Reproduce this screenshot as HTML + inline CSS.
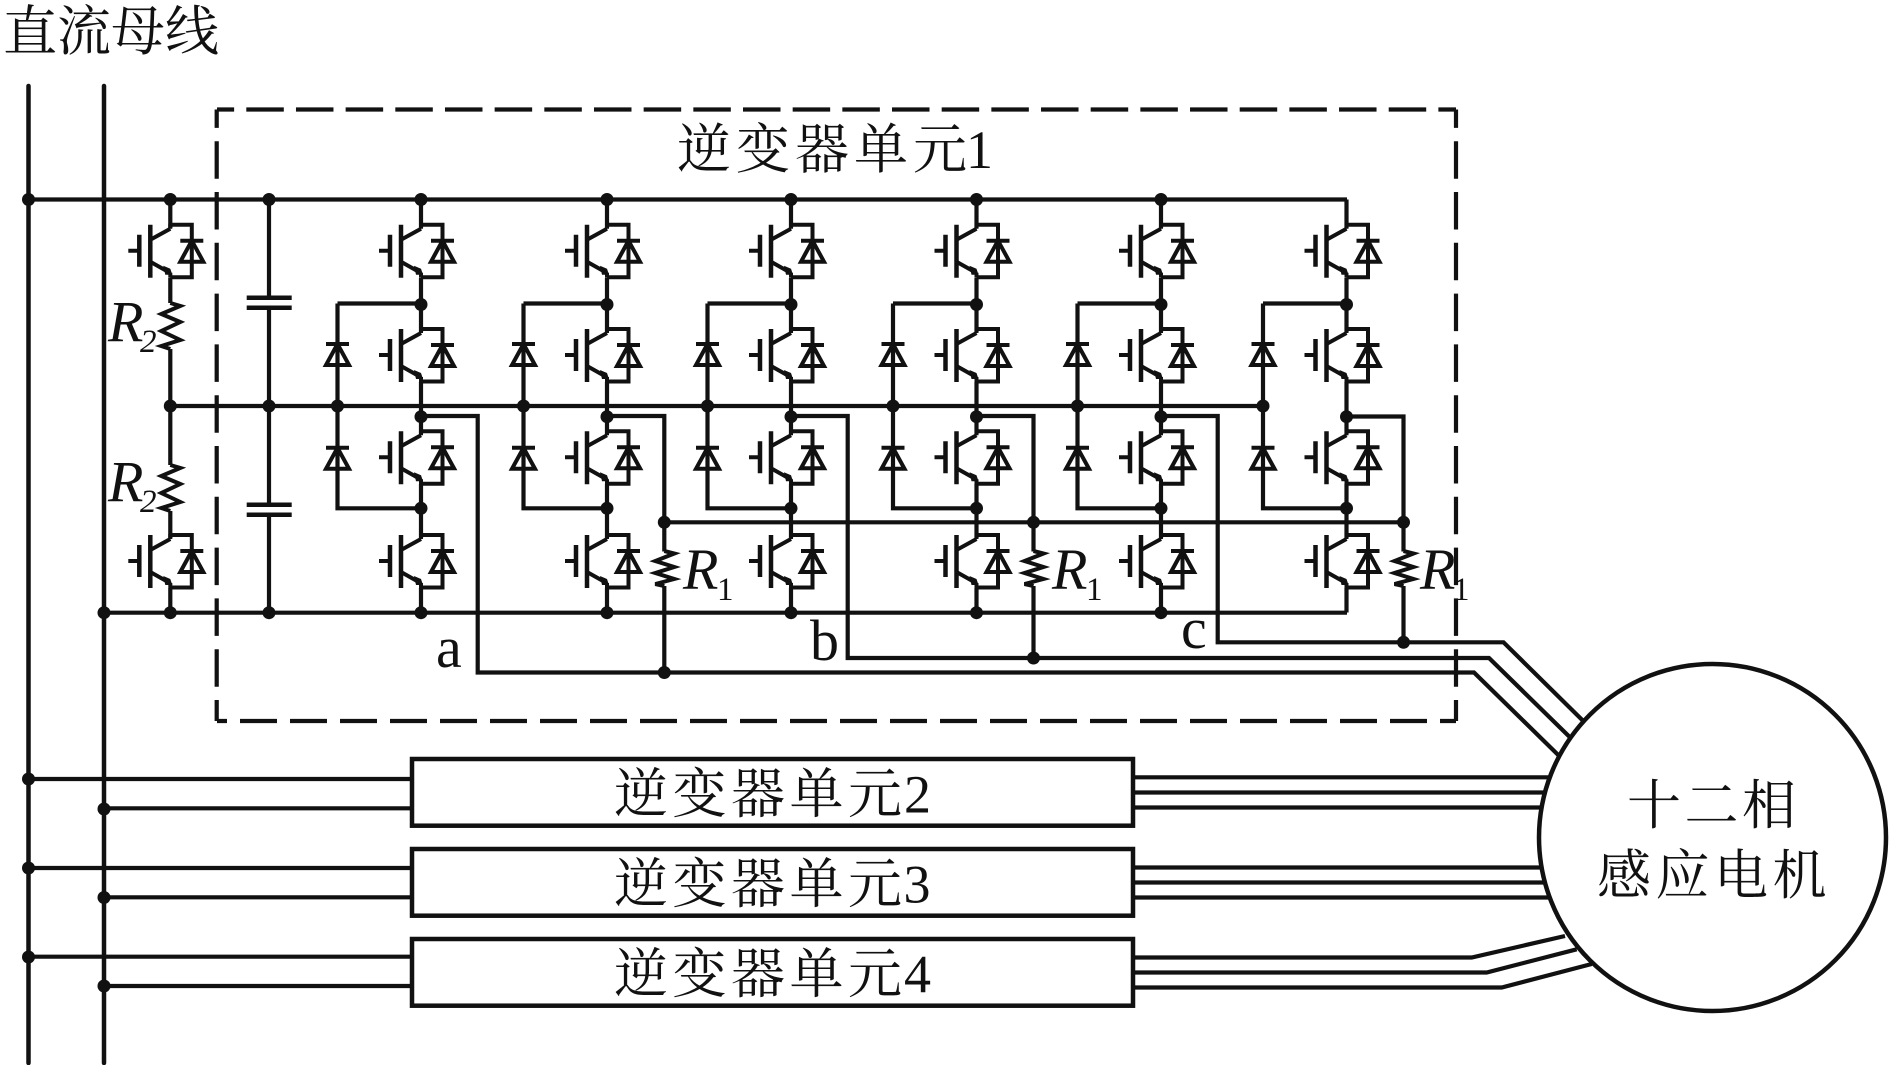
<!DOCTYPE html>
<html><head><meta charset="utf-8"><style>
html,body{margin:0;padding:0;background:#fff}
svg{display:block}
text{fill:#111}
.c{font-family:"Liberation Serif","Noto Serif CJK SC",serif}
.i{font-family:"Liberation Serif",serif;font-style:italic}
.s{font-family:"Liberation Serif",serif}
</style></head><body>
<svg width="1890" height="1065" viewBox="0 0 1890 1065" xmlns="http://www.w3.org/2000/svg">
<defs>
<g id="q" fill="none" stroke="#111" stroke-width="4">
<path stroke-width="4.5" d="M-20-26V27M-31-16V16"/>
<path d="M-42 0H-31M-20-11L0-22M-20 11L-4 20"/>
<path d="M0-26H21.500V26.500H0"/>
<path stroke-width="4" d="M10-10H33M21.500-10L10 11H33L21.500-10"/>
<path d="M0-27V-22M0 22V27"/>
<path fill="#111" stroke="none" d="M-7 15L0 18L2 24L-5 24Z"/>
</g>
<g id="d" fill="none" stroke="#111" stroke-width="4">
<path d="M-11.500-10.500H11.500M0-10.500L-11.500 10.500H11.500L0-10.500"/>
</g>
<g id="r" fill="none" stroke="#111" stroke-width="4">
<path d="M0 0L10 2.500L-9 10L10 16L-9 22L10 28L-9 33L0 35"/>
</g>
<g id="r2" fill="none" stroke="#111" stroke-width="4">
<path d="M0 0L10 3L-9 11L10 19L-9 28L10 37L-9 43L0 46"/>
</g>
<g id="leg" fill="none" stroke="#111" stroke-width="4.200">
<path d="M0 199.500V228M0 278V332M0 382V434M0 484V538M0 588V612.500"/>
<use href="#q" y="250.700"/><use href="#q" y="355"/><use href="#q" y="457.300"/><use href="#q" y="561"/>
<path d="M-83.500 303.500H0M-83.500 303.500V508.300H0"/>
<use href="#d" x="-83.500" y="354.500"/><use href="#d" x="-83.500" y="458.300"/>
<g fill="#111" stroke="none"><circle cx="-83.500" cy="406" r="6.500"/><circle cx="0" cy="304.500" r="6.500"/><circle cx="0" cy="416.700" r="6.500"/><circle cx="0" cy="508.300" r="6.500"/></g>
</g>
</defs>

<rect width="1890" height="1065" fill="#fff"/>

<!-- dashed enclosure -->
<g stroke="#111" stroke-width="4.200" fill="none">
<path d="M217 109.500H1456" stroke-dasharray="37.500 12.170" stroke-dashoffset="20.370"/>
<path d="M217 721H1456" stroke-dasharray="37 13" stroke-dashoffset="27"/>
<path d="M216.700 109.500V721" stroke-dasharray="37.500 13.300" stroke-dashoffset="19.100"/>
<path d="M1456 109.500V721" stroke-dasharray="37.500 13.300" stroke-dashoffset="19.100"/>
</g>

<!-- buses -->
<g stroke="#111" fill="none" stroke-linecap="round">
<path stroke-width="4.500" d="M28.500 86V1063M104 86V1063"/>
</g>

<g stroke="#111" stroke-width="4.200" fill="none">
<!-- rails -->
<path d="M28 199.500H1347M170 406H1263.500M104 612.700H1347"/>
<path d="M664 522.300H1403.500"/>
<!-- left leg -->
<path d="M170.300 199.500V228M170.300 278V303M170.300 349V465M170.300 511V538M170.300 588V612.700"/>
<!-- capacitor -->
<path d="M269 199.500V297.700M269 307.700V504.700M269 514.700V612.700"/>
<path stroke-width="4.500" d="M246.700 297.700H291.700M246.700 307.700H291.700M246.700 504.700H291.700M246.700 514.700H291.700"/>
<!-- phase outputs -->
<path d="M421 416H477.700V672.500H1474L1560 756.700"/>
<path d="M791 416H847.700V658H1489L1570.700 738"/>
<path d="M1161 416H1217.700V642.300H1503.500L1584 721.700"/>
<!-- R1 tie lines -->
<path d="M607 416H664.300V551.500M664.300 586V672.500"/>
<path d="M976.500 416H1033.500V551.500M1033.500 586V658"/>
<path d="M1347 416.500H1403.500V551.500M1403.500 586V642.300"/>
<!-- unit inputs -->
<path d="M28 779H412M104 808.300H412M28 868H412M104 897.300H412M28 956.700H412M104 986H412"/>
<!-- unit outputs -->
<path d="M1133 777.300H1560M1133 792.500H1560M1133 807.500H1560"/>
<path d="M1133 867.500H1560M1133 882.500H1560M1133 897.500H1560"/>
<path d="M1133 957.500H1471.700L1565 936M1133 972.500H1486.700L1576.700 949.300M1133 987.500H1501.700L1591.700 964"/>
</g>

<!-- unit boxes -->
<g fill="#fff" stroke="#111" stroke-width="4.500">
<rect x="412" y="759" width="721" height="66.700"/>
<rect x="412" y="849" width="721" height="66.700"/>
<rect x="412" y="939" width="721" height="66.700"/>
</g>

<!-- motor -->
<circle cx="1712.500" cy="837.500" r="173.500" fill="#fff" stroke="#111" stroke-width="4.500"/>

<!-- left IGBTs and resistors -->
<use href="#q" x="170.300" y="250.700"/>
<use href="#q" x="170.300" y="561"/>
<use href="#r2" x="170.300" y="303"/>
<use href="#r2" x="170.300" y="465"/>

<!-- legs -->
<use href="#leg" x="421"/>
<use href="#leg" x="607"/>
<use href="#leg" x="791"/>
<use href="#leg" x="976.500"/>
<use href="#leg" x="1161"/>
<use href="#leg" x="1346.500"/>

<use href="#r" x="664.300" y="551"/>
<use href="#r" x="1033.500" y="551"/>
<use href="#r" x="1403.500" y="551"/>

<!-- junction dots -->
<g fill="#111">
<circle cx="28.500" cy="199.500" r="6.500"/><circle cx="170.300" cy="199.500" r="6.500"/><circle cx="269" cy="199.500" r="6.500"/>
<circle cx="421" cy="199.500" r="6.500"/><circle cx="607" cy="199.500" r="6.500"/><circle cx="791" cy="199.500" r="6.500"/><circle cx="976.500" cy="199.500" r="6.500"/><circle cx="1161" cy="199.500" r="6.500"/>
<circle cx="170.300" cy="406" r="6.500"/><circle cx="269" cy="406" r="6.500"/>
<circle cx="104" cy="612.700" r="6.500"/><circle cx="170.300" cy="612.700" r="6.500"/><circle cx="269" cy="612.700" r="6.500"/>
<circle cx="421" cy="612.700" r="6.500"/><circle cx="607" cy="612.700" r="6.500"/><circle cx="791" cy="612.700" r="6.500"/><circle cx="976.500" cy="612.700" r="6.500"/><circle cx="1161" cy="612.700" r="6.500"/>
<circle cx="664.300" cy="522.300" r="6.500"/><circle cx="1033.500" cy="522.300" r="6.500"/><circle cx="1403.500" cy="522.300" r="6.500"/>
<circle cx="664.300" cy="672.500" r="6.500"/><circle cx="1033.500" cy="658" r="6.500"/><circle cx="1403.500" cy="642.300" r="6.500"/>
<circle cx="28.500" cy="779" r="6.500"/><circle cx="104" cy="809" r="6.500"/>
<circle cx="28.500" cy="868" r="6.500"/><circle cx="104" cy="897.500" r="6.500"/>
<circle cx="28.500" cy="957" r="6.500"/><circle cx="104" cy="986" r="6.500"/>
</g>

<!-- labels -->
<text class="c" font-size="54" x="3" y="50" letter-spacing="0">直流母线</text>
<text class="c" font-size="54" x="677" y="168" letter-spacing="5">逆变器单元<tspan dx="-6">1</tspan></text>
<text class="c" font-size="54" x="614" y="812.500" letter-spacing="4.500">逆变器单元<tspan dx="-2.500">2</tspan></text>
<text class="c" font-size="54" x="614" y="902.500" letter-spacing="4.500">逆变器单元<tspan dx="-3">3</tspan></text>
<text class="c" font-size="54" x="614" y="992.500" letter-spacing="4.500">逆变器单元<tspan dx="-2.500">4</tspan></text>
<text class="c" font-size="54" x="1627" y="824" letter-spacing="3.500">十二相</text>
<text class="c" font-size="54" x="1597" y="894" letter-spacing="4.500">感应电机</text>

<text class="i" font-size="58" x="108" y="341.700">R</text><text class="s i" font-size="33" x="140" y="352">2</text>
<text class="i" font-size="58" x="108" y="501.700">R</text><text class="s i" font-size="33" x="140" y="512">2</text>
<text class="i" font-size="58" x="683" y="589">R</text><text class="s" font-size="33" x="717" y="600">1</text>
<text class="i" font-size="58" x="1052" y="589">R</text><text class="s" font-size="33" x="1086" y="600">1</text>
<text class="i" font-size="58" x="1420" y="589">R</text><text class="s" font-size="33" x="1453" y="600">1</text>
<text class="s" font-size="58" x="436" y="667">a</text>
<text class="s" font-size="58" x="810" y="660">b</text>
<text class="s" font-size="58" x="1181" y="648">c</text>
</svg>
</body></html>
